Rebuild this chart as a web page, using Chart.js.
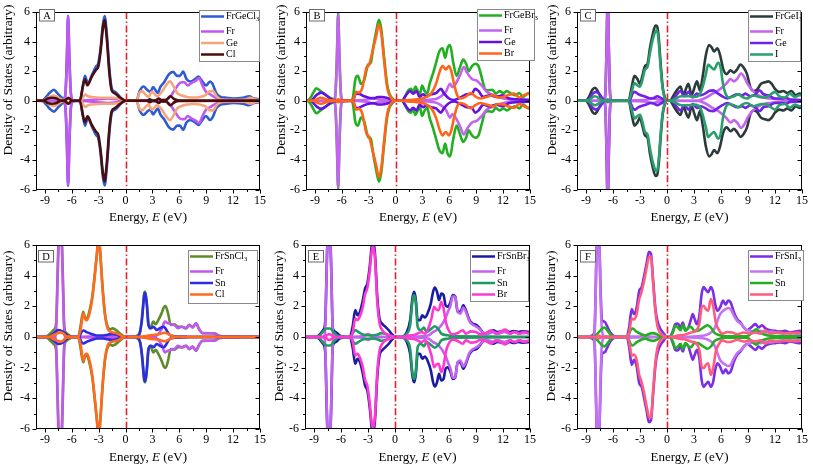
<!DOCTYPE html>
<html><head><meta charset="utf-8">
<script src="https://cdn.jsdelivr.net/npm/chart.js@4/dist/chart.umd.min.js"></script>
<style>
html,body{margin:0;padding:0;background:#fff;width:813px;height:465px;overflow:hidden;position:relative}
canvas{position:absolute}
</style></head><body>
<script>
// ---------- axis ticks ----------
const X_TICKS = [-9,-6,-3,0,3,6,9,12,15];
const X_MINOR = [-7.5,-4.5,-1.5,1.5,4.5,7.5,10.5,13.5];
const Y_TICKS = [-6,-4,-2,0,2,4,6];
const Y_MINOR = [-5,-3,-1,1,3,5];

// ---------- Panel A : FrGeCl3 ----------
const A_names = ['FrGeCl3','Fr','Ge','Cl'];
const A_tot_x = [-10,-9.3,-8.8,-8.5,-8.0,-7.6,-7.2,-6.9,-6.7,-6.55,-6.42,-6.28,-6.12,-5.9,-5.2,-4.95,-4.74,-4.53,-4.23,-3.72,-3.28,-3.07,-2.8,-2.55,-2.34,-2.08,-1.79,-1.53,-1.17,-0.62,-0.25,0,1.2,1.57,2.0,2.4,2.77,3.07,3.4,3.6,3.87,4.3,4.85,5.3,5.77,6.06,6.42,6.79,7.23,7.77,8.14,8.5,8.98,9.42,9.7,10.15,10.6,11.24,12.0,13.1,13.8,14.3,15];
const A_tot_up = [0,0.02,0.3,0.52,0.74,0.5,0.25,0.1,0.6,3.0,5.75,3.0,0.6,0.05,0,0.3,1.1,1.68,1.18,1.8,2.34,2.5,3.5,5.1,5.73,4.4,2.0,0.8,0.6,0.26,0.05,0,0,0.65,0.96,0.74,0.6,0.92,0.65,0.52,0.92,1.25,1.8,1.95,1.68,1.68,1.97,1.47,1.3,1.47,1.64,1.36,1.03,1.3,1.14,0.48,0.26,0.2,0.15,0.2,0.3,0.15,0.1];
const A_tot_dn = [0,-0.02,-0.3,-0.52,-0.74,-0.5,-0.25,-0.1,-0.6,-3.0,-5.75,-3.0,-0.6,-0.05,0,-0.3,-1.1,-1.68,-1.18,-1.8,-2.34,-2.5,-3.5,-5.1,-5.73,-4.4,-2.0,-0.8,-0.6,-0.26,-0.05,0,0,-0.65,-0.96,-0.74,-0.6,-0.92,-0.65,-0.52,-0.92,-1.25,-1.8,-1.95,-1.68,-1.68,-1.97,-1.47,-1.3,-1.47,-1.64,-1.36,-1.03,-1.3,-1.14,-0.48,-0.26,-0.2,-0.15,-0.2,-0.3,-0.15,-0.1];
const A_fr_x = [-10,-6.9,-6.7,-6.55,-6.42,-6.28,-6.12,-5.9,-3.0,-2.0,-1.0,0,4.5,5.1,5.4,5.95,6.3,6.57,6.93,7.3,7.85,8.2,8.58,8.98,9.42,9.78,10.3,11,15];
const A_fr_up = [0,0,0.55,2.9,5.7,2.9,0.55,0,0.1,0.15,0.1,0,0.05,0.37,0.65,1.14,1.25,1.25,1.03,1.18,1.36,1.53,1.03,0.6,0.44,0.3,0.15,0.08,0.05];
const A_fr_dn = [0,0,-0.55,-2.9,-5.7,-2.9,-0.55,0,-0.1,-0.15,-0.1,0,-0.05,-0.37,-0.65,-1.14,-1.25,-1.25,-1.03,-1.18,-1.36,-1.53,-1.03,-0.6,-0.44,-0.3,-0.15,-0.08,-0.05];
const A_ge_x = [-10,-9.2,-8.5,-8.0,-7.5,-7.0,-6.6,-6.4,-6.2,-5.9,-5.0,-4.7,-4.5,-4.2,-3.7,-3.2,-2.5,-1.5,-0.8,-0.2,0,1.2,1.57,1.82,2.3,2.55,2.92,3.2,3.5,3.94,4.5,4.96,5.4,5.77,6.2,6.86,7.6,8.3,8.87,9.42,9.78,10.15,10.7,12,13.4,13.9,14.5,15];
const A_ge_up = [0,0.02,0.25,0.35,0.2,0.05,0.08,0.12,0.08,0,0,0.3,0.42,0.3,0.25,0.22,0.2,0.2,0.15,0.05,0,0,0.55,0.65,0.37,0.26,0.6,0.48,0.3,0.52,1.03,1.31,0.92,0.52,0.37,0.26,0.22,0.26,0.37,0.65,0.65,0.3,0.08,0.05,0.08,0.2,0.08,0.05];
const A_ge_dn = [0,-0.02,-0.25,-0.35,-0.2,-0.05,-0.08,-0.12,-0.08,0,0,-0.3,-0.42,-0.3,-0.25,-0.22,-0.2,-0.2,-0.15,-0.05,0,0,-0.55,-0.65,-0.37,-0.26,-0.6,-0.48,-0.3,-0.52,-1.03,-1.31,-0.92,-0.52,-0.37,-0.26,-0.22,-0.26,-0.37,-0.65,-0.65,-0.3,-0.08,-0.05,-0.08,-0.2,-0.08,-0.05];
const A_cl_x = [-10,-9.2,-8.7,-8.2,-7.7,-7.2,-6.7,-6.4,-6.1,-5.9,-5.1,-4.8,-4.55,-4.25,-3.8,-3.3,-3.05,-2.8,-2.55,-2.35,-2.1,-1.8,-1.55,-1.2,-0.6,-0.1,0,2.4,2.7,3.0,3.45,3.7,3.95,4.5,5.0,5.45,6.0,15];
const A_cl_up = [0,0,0.15,0.2,0.15,0,0.05,0.2,0.05,0,0,0.9,1.45,1.05,1.6,2.1,2.3,3.3,4.8,5.45,4.2,1.8,0.7,0.5,0.2,0.02,0,0,0.1,0,0.05,0.15,0.05,0.05,0.3,0.1,0.02,0];
const A_cl_dn = [0,0,-0.15,-0.2,-0.15,0,-0.05,-0.2,-0.05,0,0,-0.9,-1.45,-1.05,-1.6,-2.1,-2.3,-3.3,-4.8,-5.45,-4.2,-1.8,-0.7,-0.5,-0.2,-0.02,0,0,-0.1,0,-0.05,-0.15,-0.05,-0.05,-0.3,-0.1,-0.02,0];

// ---------- Panel B : FrGeBr3 ----------
const B_names = ['FrGeBr3','Fr','Ge','Br'];
const B_tot_x = [-10,-9.8,-9.5,-9.14,-8.85,-8.48,-8.05,-7.6,-7.13,-6.85,-6.7,-6.55,-6.41,-6.27,-6.12,-5.95,-5.0,-4.77,-4.48,-4.22,-3.86,-3.5,-3.06,-2.77,-2.51,-2.15,-1.86,-1.6,-1.31,-0.95,-0.69,-0.33,0,0.7,1.05,1.42,1.71,1.97,2.22,2.44,2.69,2.95,3.24,3.53,3.79,4.15,4.51,4.88,5.24,5.53,5.79,6.08,6.44,6.81,7.17,7.54,7.9,8.15,8.52,8.88,9.25,9.61,9.97,10.34,10.81,11.18,11.6,12.05,12.4,12.9,13.36,13.8,14.23,14.7,15];
const B_tot_up = [0,0.02,0.2,0.6,0.85,0.7,0.5,0.3,0.15,0.1,0.6,3.0,5.95,3.0,0.6,0.05,0,0.2,1.47,1.68,1.14,1.4,2.45,2.56,3.55,4.75,5.47,4.86,3.1,1.14,0.48,0.15,0,0,0.3,0.7,0.8,0.6,0.96,0.7,0.37,1.03,0.66,0.48,1.14,1.8,2.56,3.33,3.55,2.89,3.55,3.76,2.56,1.68,2.23,2.78,2.45,2.0,2.34,2.5,2.34,1.58,0.8,0.7,0.74,0.48,0.65,0.52,0.65,0.48,0.37,0.52,0.26,0.48,0.55];
const B_tot_dn = [0,-0.02,-0.2,-0.6,-0.85,-0.7,-0.5,-0.3,-0.15,-0.1,-0.6,-3.0,-5.95,-3.0,-0.6,-0.05,0,-0.2,-1.47,-1.68,-1.14,-1.4,-2.45,-2.56,-3.55,-4.75,-5.47,-4.86,-3.1,-1.14,-0.48,-0.15,0,0,-0.3,-0.7,-0.8,-0.6,-0.96,-0.7,-0.37,-1.03,-0.66,-0.48,-1.14,-1.8,-2.56,-3.33,-3.55,-2.89,-3.55,-3.76,-2.56,-1.68,-2.23,-2.78,-2.45,-2.0,-2.34,-2.5,-2.34,-1.58,-0.8,-0.7,-0.74,-0.48,-0.65,-0.52,-0.65,-0.48,-0.37,-0.52,-0.26,-0.48,-0.55];
const B_fr_x = [-10,-6.85,-6.7,-6.55,-6.41,-6.27,-6.12,-5.95,-3.0,-2.5,-2.0,-1.0,0,4.33,5.06,5.6,6.08,6.33,6.7,7.24,7.61,7.97,8.52,9.06,9.61,10.16,10.7,11.61,12.7,15];
const B_fr_up = [0,0,0.55,2.9,5.85,2.9,0.55,0,0.1,0.2,0.1,0.05,0,0.1,0.3,0.6,1.14,0.92,1.14,1.8,2.28,1.9,1.47,1.36,1.03,0.6,0.44,0.22,0.09,0.05];
const B_fr_dn = [0,0,-0.55,-2.9,-5.85,-2.9,-0.55,0,-0.1,-0.2,-0.1,-0.05,0,-0.1,-0.3,-0.6,-1.14,-0.92,-1.14,-1.8,-2.28,-1.9,-1.47,-1.36,-1.03,-0.6,-0.44,-0.22,-0.09,-0.05];
const B_ge_x = [-10,-9.5,-8.8,-8.3,-7.8,-7.3,-6.9,-4.8,-4.4,-4.0,-3.5,-3.0,-2.5,-2.0,-1.5,-1.0,-0.5,0,0.7,1.24,1.6,1.97,2.33,2.69,3.06,3.42,3.97,4.51,5.06,5.42,5.97,6.52,7.24,7.97,8.52,8.88,9.25,9.79,10.52,11.25,11.98,12.7,13.8,15];
const B_ge_up = [0,0,0.4,0.55,0.4,0.15,0.05,0,0.5,0.45,0.3,0.2,0.15,0.25,0.25,0.2,0.1,0,0,0.44,0.66,0.48,0.66,0.26,0.44,0.3,0.44,0.52,0.8,0.48,0.15,0.05,0.22,0.44,0.48,0.8,0.66,0.26,0.37,0.26,0.37,0.15,0.09,0.05];
const B_ge_dn = [0,0,-0.4,-0.55,-0.4,-0.15,-0.05,0,-0.5,-0.45,-0.3,-0.2,-0.15,-0.25,-0.25,-0.2,-0.1,0,0,-0.44,-0.66,-0.48,-0.66,-0.26,-0.44,-0.3,-0.44,-0.52,-0.8,-0.48,-0.15,-0.05,-0.22,-0.44,-0.48,-0.8,-0.66,-0.26,-0.37,-0.26,-0.37,-0.15,-0.09,-0.05];
const B_br_x = [-10,-9.2,-8.8,-8.4,-8.0,-7.5,-6.7,-6.4,-6.1,-5.0,-4.7,-4.4,-4.1,-3.75,-3.24,-2.95,-2.58,-2.15,-1.86,-1.57,-1.31,-0.95,-0.58,0,0.7,1.42,2.5,3.24,3.97,4.51,4.88,5.24,5.6,5.97,6.26,6.52,6.88,7.24,7.79,8.41,8.88,9.43,10.16,10.88,11.43,11.98,12.52,13.25,13.8,14.34,14.9,15];
const B_br_up = [0,0,0.1,0.2,0.15,0.05,0.02,0.1,0.02,0,0.1,0.6,0.55,0.8,2.23,2.45,3.33,4.42,5.19,4.42,2.89,0.92,0.26,0,0,0.05,0.1,0.2,0.5,1.14,1.9,2.34,2.12,2.34,1.9,1.14,0.37,0.15,0.26,0.52,0.3,0.15,0.26,0.37,0.22,0.26,0.37,0.48,0.22,0.37,0.48,0.45];
const B_br_dn = [0,0,-0.1,-0.2,-0.15,-0.05,-0.02,-0.1,-0.02,0,-0.1,-0.6,-0.55,-0.8,-2.23,-2.45,-3.33,-4.42,-5.19,-4.42,-2.89,-0.92,-0.26,0,0,-0.05,-0.1,-0.2,-0.5,-1.14,-1.9,-2.34,-2.12,-2.34,-1.9,-1.14,-0.37,-0.15,-0.26,-0.52,-0.3,-0.15,-0.26,-0.37,-0.22,-0.26,-0.37,-0.48,-0.22,-0.37,-0.48,-0.45];

// ---------- Panel C : FrGeI3 ----------
const C_names = ['FrGeI3','Fr','Ge','I'];
const C_tot_x = [-10,-9.04,-8.67,-8.3,-8.01,-7.65,-7.28,-7.03,-6.85,-6.72,-6.59,-6.46,-6.33,-6.15,-5.5,-4.28,-3.92,-3.62,-3.29,-3.0,-2.74,-2.45,-2.16,-1.9,-1.61,-1.28,-1.1,-0.91,-0.7,-0.48,-0.26,0,0.29,0.84,1.21,1.5,1.83,2.1,2.38,2.74,3.05,3.33,3.66,3.95,4.32,4.68,4.98,5.23,5.6,5.89,6.26,6.62,7.06,7.43,7.79,8.16,8.53,8.89,9.26,9.62,9.99,10.43,10.9,11.27,11.64,12.0,12.48,12.92,13.36,13.83,14.31,14.75,15];
const C_tot_up = [0,0,0.26,0.74,0.88,0.6,0.15,0.05,0.5,3.5,7.0,3.5,0.5,0.02,0,0,0.92,1.68,1.47,1.14,1.68,2.34,2.5,3.55,4.42,5.08,5.03,4.2,2.45,0.92,0.26,0,0,0.48,0.8,0.96,0.37,0.8,1.14,0.37,0.9,1.31,0.7,1.58,3.1,3.76,3.59,3.33,3.55,3.1,2.12,1.8,2.06,1.9,2.12,2.45,2.23,1.8,0.92,0.66,0.74,1.14,1.25,1.31,1.14,0.8,0.6,0.66,0.52,0.66,0.37,0.48,0.45];
const C_tot_dn = [0,0,-0.26,-0.74,-0.88,-0.6,-0.15,-0.05,-0.5,-3.5,-7.0,-3.5,-0.5,-0.02,0,0,-0.92,-1.68,-1.47,-1.14,-1.68,-2.34,-2.5,-3.55,-4.42,-5.08,-5.03,-4.2,-2.45,-0.92,-0.26,0,0,-0.48,-0.8,-0.96,-0.37,-0.8,-1.14,-0.37,-0.9,-1.31,-0.7,-1.58,-3.1,-3.76,-3.59,-3.33,-3.55,-3.1,-2.12,-1.8,-2.06,-1.9,-2.12,-2.45,-2.23,-1.8,-0.92,-0.66,-0.74,-1.14,-1.25,-1.31,-1.14,-0.8,-0.6,-0.66,-0.52,-0.66,-0.37,-0.48,-0.45];
const C_fr_x = [-10,-6.98,-6.85,-6.72,-6.59,-6.46,-6.33,-6.2,-2.5,-1.6,-0.8,0,3.5,3.95,4.5,5.05,5.6,6.15,6.62,7.06,7.43,7.79,8.23,8.6,8.96,9.44,9.99,10.72,11.45,12.55,15];
const C_fr_up = [0,0,0.45,3.4,7.0,3.4,0.45,0,0.05,0.15,0.05,0,0.02,0.1,0.26,0.48,0.66,0.92,1.18,1.47,1.31,1.47,1.84,1.58,1.14,0.74,0.44,0.22,0.15,0.09,0.05];
const C_fr_dn = [0,0,-0.45,-3.4,-7.0,-3.4,-0.45,0,-0.05,-0.15,-0.05,0,-0.02,-0.1,-0.26,-0.48,-0.66,-0.92,-1.18,-1.47,-1.31,-1.47,-1.84,-1.58,-1.14,-0.74,-0.44,-0.22,-0.15,-0.09,-0.05];
const C_ge_x = [-10,-8.8,-8.3,-7.9,-7.5,-7.1,-6.8,-4.2,-3.8,-3.6,-3.2,-2.8,-2.3,-1.8,-1.4,-1.1,-0.7,-0.3,0,0.48,1.02,1.5,1.94,2.38,2.85,3.33,3.77,4.32,4.68,5.16,5.6,6.15,6.7,7.24,7.79,8.34,8.71,9.26,9.81,10.28,10.72,11.27,12.0,12.92,13.2,13.65,15];
const C_ge_up = [0,0,0.45,0.6,0.45,0.1,0,0,0.5,0.6,0.45,0.35,0.25,0.15,0.2,0.3,0.2,0.05,0,0,0.37,0.66,0.3,0.6,0.22,0.48,0.37,0.52,0.66,0.7,0.52,0.3,0.15,0.3,0.44,0.37,0.48,0.3,0.44,0.7,0.44,0.37,0.15,0.15,0.22,0.09,0.05];
const C_ge_dn = [0,0,-0.45,-0.6,-0.45,-0.1,0,0,-0.5,-0.6,-0.45,-0.35,-0.25,-0.15,-0.2,-0.3,-0.2,-0.05,0,0,-0.37,-0.66,-0.3,-0.6,-0.22,-0.48,-0.37,-0.52,-0.66,-0.7,-0.52,-0.3,-0.15,-0.3,-0.44,-0.37,-0.48,-0.3,-0.44,-0.7,-0.44,-0.37,-0.15,-0.15,-0.22,-0.09,-0.05];
const C_i_x = [-10,-9.0,-8.6,-8.0,-7.5,-7.1,-6.8,-6.59,-6.4,-4.28,-3.92,-3.62,-3.3,-3.0,-2.74,-2.45,-2.16,-1.9,-1.6,-1.28,-1.1,-0.91,-0.7,-0.48,-0.26,0,0.3,0.84,1.57,2.49,3.04,3.59,3.95,4.32,4.57,4.87,5.23,5.67,5.96,6.22,6.51,6.88,7.43,7.98,8.34,8.89,9.55,9.99,10.54,11.09,11.64,12.0,12.48,13.1,13.65,14.2,14.75,15];
const C_i_up = [0,0,0.1,0.3,0.15,0.02,0.02,0.1,0.02,0,0.6,1.2,1.05,0.95,1.4,2.1,2.3,3.2,4.1,4.7,4.75,3.9,2.2,0.8,0.2,0,0,0.1,0.3,0.3,0.26,0.37,0.92,1.8,2.45,2.28,2.12,2.56,2.23,1.14,0.48,0.22,0.3,0.44,0.26,0.15,0.37,0.3,0.22,0.26,0.48,0.6,0.3,0.22,0.48,0.26,0.37,0.35];
const C_i_dn = [0,0,-0.1,-0.3,-0.15,-0.02,-0.02,-0.1,-0.02,0,-0.6,-1.2,-1.05,-0.95,-1.4,-2.1,-2.3,-3.2,-4.1,-4.7,-4.75,-3.9,-2.2,-0.8,-0.2,0,0,-0.1,-0.3,-0.3,-0.26,-0.37,-0.92,-1.8,-2.45,-2.28,-2.12,-2.56,-2.23,-1.14,-0.48,-0.22,-0.3,-0.44,-0.26,-0.15,-0.37,-0.3,-0.22,-0.26,-0.48,-0.6,-0.3,-0.22,-0.48,-0.26,-0.37,-0.35];

// ---------- Panel D : FrSnCl3 ----------
const D_names = ['FrSnCl3','Fr','Sn','Cl'];
const D_tot_x = [-10,-8.94,-8.39,-8.03,-7.75,-7.6,-7.45,-7.3,-7.15,-7.0,-6.85,-6.57,-6.0,-5.29,-5.04,-4.74,-4.53,-4.31,-4.01,-3.72,-3.47,-3.2,-3.0,-2.8,-2.55,-2.26,-2.0,-1.72,-1.46,-1.1,-0.73,-0.29,0,0.73,1.1,1.39,1.64,1.9,2.08,2.19,2.37,2.55,2.74,3.1,3.36,3.65,4.01,4.27,4.45,4.74,5.04,5.47,5.84,6.28,6.75,7.12,7.48,7.85,8.21,8.58,9.49,10.04,10.4,11.0,13.0,15];
const D_tot_up = [0,0,0.24,0.46,0.9,3.9,7.0,8.0,7.0,3.9,0.7,0.24,0.03,0,0.67,1.65,1.28,1.22,1.76,2.63,3.93,5.46,6.6,5.24,3.07,1.33,0.67,0.5,0.56,0.46,0.28,0.07,0,0,0.03,0.13,0.35,1.76,2.85,2.96,2.2,0.89,0.57,1.0,0.83,1.1,1.54,1.93,2.02,1.54,0.78,0.83,0.67,0.67,0.57,0.8,0.63,0.9,0.5,0.25,0.24,0.22,0.08,0.05,0.02,0];
const D_tot_dn = [0,0,-0.24,-0.46,-0.9,-3.9,-7.0,-8.0,-7.0,-3.9,-0.7,-0.24,-0.03,0,-0.67,-1.65,-1.28,-1.22,-1.76,-2.63,-3.93,-5.46,-6.6,-5.24,-3.07,-1.33,-0.67,-0.5,-0.56,-0.46,-0.28,-0.07,0,0,-0.03,-0.13,-0.35,-1.76,-2.85,-2.96,-2.2,-0.89,-0.57,-1.0,-0.83,-1.1,-1.54,-1.93,-2.02,-1.54,-0.78,-0.83,-0.67,-0.67,-0.57,-0.8,-0.63,-0.9,-0.5,-0.25,-0.24,-0.22,-0.08,-0.05,-0.02,0];
const D_fr_x = [-10,-7.9,-7.75,-7.6,-7.45,-7.3,-7.15,-7.0,-6.85,-6.7,-3.0,-2.0,-1.0,0,3.28,4.01,4.38,4.74,5.11,5.47,5.84,6.28,6.75,7.12,7.48,7.85,8.21,8.58,9.49,10.04,10.4,10.95,12.77,13.0,15];
const D_fr_up = [0,0,0.5,3.5,6.7,7.9,6.7,3.5,0.5,0,0.05,0.08,0.05,0,0.05,0.5,1.0,0.89,0.83,0.78,0.57,0.67,0.57,0.78,0.63,0.89,0.5,0.24,0.24,0.2,0.07,0.05,0.03,0,0];
const D_fr_dn = [0,0,-0.5,-3.5,-6.7,-7.9,-6.7,-3.5,-0.5,0,-0.05,-0.08,-0.05,0,-0.05,-0.5,-1.0,-0.89,-0.83,-0.78,-0.57,-0.67,-0.57,-0.78,-0.63,-0.89,-0.5,-0.24,-0.24,-0.2,-0.07,-0.05,-0.03,0,0];
const D_sn_x = [-10,-8.6,-8.0,-7.5,-7.0,-6.5,-6.0,-5.2,-4.9,-4.7,-4.3,-3.8,-3.2,-2.5,-2.0,-1.5,-1.0,-0.5,0,1.1,1.46,1.82,2.08,2.19,2.37,2.55,2.85,3.1,3.47,3.83,4.27,4.56,4.93,5.47,7.0,15];
const D_sn_up = [0,0,0.25,0.46,0.35,0.1,0,0,0.35,0.42,0.3,0.2,0.1,0.1,0.15,0.2,0.15,0.05,0,0,0.1,1.1,2.74,2.89,2.09,0.78,0.57,0.67,0.46,0.57,0.67,0.46,0.13,0.05,0.02,0];
const D_sn_dn = [0,0,-0.25,-0.46,-0.35,-0.1,0,0,-0.35,-0.42,-0.3,-0.2,-0.1,-0.1,-0.15,-0.2,-0.15,-0.05,0,0,-0.1,-1.1,-2.74,-2.89,-2.09,-0.78,-0.57,-0.67,-0.46,-0.57,-0.67,-0.46,-0.13,-0.05,-0.02,0];
const D_cl_x = [-10,-8.5,-8.0,-7.6,-7.3,-7.0,-6.6,-5.29,-5.0,-4.74,-4.5,-4.3,-4.0,-3.72,-3.47,-3.2,-3.0,-2.8,-2.55,-2.26,-2.0,-1.7,-1.4,-1.0,-0.5,0,1.1,2.19,2.92,3.65,4.38,4.74,5.28,6.0,15];
const D_cl_up = [0,0,0.15,0.25,0.3,0.25,0.05,0,0.55,1.55,1.15,1.1,1.6,2.5,3.8,5.4,6.5,5.2,3.0,1.25,0.55,0.35,0.3,0.25,0.1,0,0,0.05,0.13,0.17,0.28,0.2,0.05,0,0];
const D_cl_dn = [0,0,-0.15,-0.25,-0.3,-0.25,-0.05,0,-0.55,-1.55,-1.15,-1.1,-1.6,-2.5,-3.8,-5.4,-6.5,-5.2,-3.0,-1.25,-0.55,-0.35,-0.3,-0.25,-0.1,0,0,-0.05,-0.13,-0.17,-0.28,-0.2,-0.05,0,0];

// ---------- Panel E : FrSnBr3 ----------
const E_names = ['FrSnBr3','Fr','Sn','Br'];
const E_tot_x = [-10,-8.72,-8.36,-7.99,-7.75,-7.62,-7.48,-7.34,-7.2,-7.06,-6.92,-6.6,-6.17,-5.62,-5.07,-4.71,-4.42,-4.16,-3.9,-3.61,-3.32,-3.07,-2.81,-2.59,-2.45,-2.23,-1.97,-1.72,-1.42,-1.06,-0.69,-0.33,0,0.58,0.95,1.31,1.68,1.93,2.12,2.3,2.52,2.77,3.03,3.32,3.61,3.98,4.23,4.42,4.67,4.89,5.15,5.4,5.62,5.88,6.17,6.42,6.68,6.97,7.26,7.59,7.88,8.25,8.61,8.98,9.34,9.71,10.07,10.55,10.91,11.35,11.9,12.26,12.74,13.18,13.72,14.27,15];
const E_tot_up = [0,0,0.17,0.44,1.0,3.8,7.0,8.0,7.0,3.8,0.6,0.33,0.11,0.02,0,0.66,1.75,1.42,1.64,2.29,3.17,3.49,4.59,5.9,6.3,5.46,2.62,1.2,0.87,0.66,0.44,0.17,0,0,0.05,0.33,1.09,2.51,2.95,2.51,1.09,1.09,1.42,1.27,1.53,2.18,2.95,3.23,2.95,2.4,2.84,2.73,2.07,1.97,2.29,2.73,2.66,1.64,1.64,2.07,1.75,1.14,0.87,0.81,0.61,0.33,0.22,0.33,0.44,0.33,0.37,0.44,0.33,0.39,0.33,0.37,0.33];
const E_tot_dn = [0,0,-0.17,-0.44,-1.0,-3.8,-7.0,-8.0,-7.0,-3.8,-0.6,-0.33,-0.11,-0.02,0,-0.66,-1.75,-1.42,-1.64,-2.29,-3.17,-3.49,-4.59,-5.9,-6.3,-5.46,-2.62,-1.2,-0.87,-0.66,-0.44,-0.17,0,0,-0.05,-0.33,-1.09,-2.51,-2.95,-2.51,-1.09,-1.09,-1.42,-1.27,-1.53,-2.18,-2.95,-3.23,-2.95,-2.4,-2.84,-2.73,-2.07,-1.97,-2.29,-2.73,-2.66,-1.64,-1.64,-2.07,-1.75,-1.14,-0.87,-0.81,-0.61,-0.33,-0.22,-0.33,-0.44,-0.33,-0.37,-0.44,-0.33,-0.39,-0.33,-0.37,-0.33];
const E_fr_x = [-10,-7.9,-7.75,-7.62,-7.48,-7.34,-7.2,-7.06,-6.92,-6.75,-3.5,-3.0,-2.5,0,3.69,4.23,4.6,5.15,5.58,5.88,6.17,6.42,6.68,6.97,7.26,7.59,7.88,8.25,8.61,8.98,9.34,9.71,10.07,10.6,10.95,11.5,12.15,12.74,13.25,13.83,14.45,15];
const E_fr_up = [0,0,0.6,3.6,6.8,7.8,6.8,3.6,0.5,0,0.05,0.2,0.05,0,0.1,0.33,0.44,0.76,1.2,1.64,2.07,2.66,2.62,1.64,1.53,1.92,1.64,1.05,0.81,0.7,0.55,0.33,0.17,0.26,0.33,0.22,0.33,0.22,0.33,0.22,0.26,0.24];
const E_fr_dn = [0,0,-0.6,-3.6,-6.8,-7.8,-6.8,-3.6,-0.5,0,-0.05,-0.2,-0.05,0,-0.1,-0.33,-0.44,-0.76,-1.2,-1.64,-2.07,-2.66,-2.62,-1.64,-1.53,-1.92,-1.64,-1.05,-0.81,-0.7,-0.55,-0.33,-0.17,-0.26,-0.33,-0.22,-0.33,-0.22,-0.33,-0.22,-0.26,-0.24];
const E_sn_x = [-10,-8.6,-8.0,-7.6,-7.2,-6.8,-6.3,-5.0,-4.6,-4.4,-4.0,-3.5,-2.5,-2.0,-1.5,-1.0,-0.5,0,0.77,1.31,1.68,1.93,2.12,2.3,2.52,2.88,3.21,3.5,4.05,4.42,4.85,5.15,5.88,6.6,15];
const E_sn_up = [0,0,0.35,0.55,0.55,0.3,0.05,0,0.35,0.45,0.3,0.15,0.1,0.15,0.25,0.2,0.05,0,0,0.22,0.76,2.29,2.73,2.29,0.66,0.44,0.61,0.33,0.55,0.7,0.48,0.22,0.11,0.04,0.02];
const E_sn_dn = [0,0,-0.35,-0.55,-0.55,-0.3,-0.05,0,-0.35,-0.45,-0.3,-0.15,-0.1,-0.15,-0.25,-0.2,-0.05,0,0,-0.22,-0.76,-2.29,-2.73,-2.29,-0.66,-0.44,-0.61,-0.33,-0.55,-0.7,-0.48,-0.22,-0.11,-0.04,-0.02];
const E_br_x = [-10,-8.0,-7.6,-7.3,-7.0,-6.6,-5.0,-4.7,-4.42,-4.16,-3.9,-3.6,-3.32,-3.07,-2.81,-2.59,-2.45,-2.23,-1.97,-1.72,-1.42,-1.0,-0.5,0,0.77,1.5,2.23,2.96,3.32,3.69,4.05,4.34,4.6,4.85,5.15,5.4,5.69,6.06,6.42,6.97,7.52,7.88,8.43,8.98,9.52,10.07,10.69,11.17,11.72,12.26,12.81,13.25,13.8,14.27,15];
const E_br_up = [0,0,0.1,0.2,0.1,0,0,0.3,1.2,1.1,1.35,1.9,2.8,3.2,4.3,5.6,5.95,5.2,2.3,0.9,0.45,0.2,0.1,0,0,0.1,0.15,0.33,0.22,0.55,1.2,1.97,1.79,1.75,2.29,1.86,0.87,0.33,0.17,0.26,0.44,0.22,0.37,0.33,0.17,0.26,0.44,0.22,0.33,0.48,0.22,0.33,0.22,0.33,0.22];
const E_br_dn = [0,0,-0.1,-0.2,-0.1,0,0,-0.3,-1.2,-1.1,-1.35,-1.9,-2.8,-3.2,-4.3,-5.6,-5.95,-5.2,-2.3,-0.9,-0.45,-0.2,-0.1,0,0,-0.1,-0.15,-0.33,-0.22,-0.55,-1.2,-1.97,-1.79,-1.75,-2.29,-1.86,-0.87,-0.33,-0.17,-0.26,-0.44,-0.22,-0.37,-0.33,-0.17,-0.26,-0.44,-0.22,-0.33,-0.48,-0.22,-0.33,-0.22,-0.33,-0.22];

// ---------- Panel F : FrSnI3 ----------
const F_names = ['FrSnI3','Fr','Sn','I'];
const F_tot_x = [-10,-8.68,-8.32,-8.05,-7.92,-7.79,-7.66,-7.53,-7.4,-7.22,-6.92,-6.67,-6.3,-5.82,-4.47,-4.21,-3.92,-3.66,-3.37,-3.08,-2.82,-2.53,-2.27,-2.01,-1.79,-1.54,-1.28,-1.06,-0.81,-0.44,0,0.29,0.66,0.92,1.21,1.5,1.76,2.05,2.38,2.67,2.86,3.04,3.33,3.59,3.85,4.07,4.32,4.58,4.87,5.13,5.35,5.6,5.9,6.23,6.52,6.78,7.07,7.44,7.8,8.17,8.53,8.9,9.34,9.82,10.18,10.55,10.92,11.47,12.01,12.56,13.11,13.66,14.21,14.76,15];
const F_tot_up = [0,0,0.1,0.4,3.2,6.8,8.0,6.8,3.5,1.1,1.0,0.73,0.29,0.05,0,0.62,1.82,1.49,1.93,3.03,3.25,4.02,4.79,5.56,5.45,3.69,1.82,1.05,0.62,0.29,0,0,0.4,0.84,0.88,0.62,0.95,0.44,0.62,1.16,1.49,1.23,0.84,1.38,2.81,3.25,3.08,2.92,3.25,2.92,2.15,1.71,1.93,2.37,2.11,2.37,2.26,1.6,1.16,0.95,0.62,0.44,0.62,0.84,0.62,0.77,0.57,0.44,0.4,0.35,0.4,0.29,0.35,0.4,0.35];
const F_tot_dn = [0,0,-0.1,-0.4,-3.2,-6.8,-8.0,-6.8,-3.5,-1.1,-1.0,-0.73,-0.29,-0.05,0,-0.62,-1.82,-1.49,-1.93,-3.03,-3.25,-4.02,-4.79,-5.56,-5.45,-3.69,-1.82,-1.05,-0.62,-0.29,0,0,-0.4,-0.84,-0.88,-0.62,-0.95,-0.44,-0.62,-1.16,-1.49,-1.23,-0.84,-1.38,-2.81,-3.25,-3.08,-2.92,-3.25,-2.92,-2.15,-1.71,-1.93,-2.37,-2.11,-2.37,-2.26,-1.6,-1.16,-0.95,-0.62,-0.44,-0.62,-0.84,-0.62,-0.77,-0.57,-0.44,-0.4,-0.35,-0.4,-0.29,-0.35,-0.4,-0.35];
const F_fr_x = [-10,-8.2,-8.05,-7.92,-7.79,-7.66,-7.53,-7.4,-7.25,-7.0,-3.0,-2.5,-2.0,0,4.14,4.69,5.24,5.6,5.9,6.23,6.52,6.78,7.07,7.44,7.8,8.24,8.72,9.27,9.82,10.37,10.92,11.47,12.2,12.93,13.66,14.4,15];
const F_fr_up = [0,0,0.3,3.0,6.5,7.8,6.5,3.0,0.6,0.05,0.03,0.1,0.03,0,0.1,0.22,0.51,1.05,1.49,1.71,1.82,1.89,1.82,1.38,1.05,0.84,0.51,0.4,0.33,0.4,0.29,0.35,0.29,0.22,0.26,0.22,0.2];
const F_fr_dn = [0,0,-0.3,-3.0,-6.5,-7.8,-6.5,-3.0,-0.6,-0.05,-0.03,-0.1,-0.03,0,-0.1,-0.22,-0.51,-1.05,-1.49,-1.71,-1.82,-1.89,-1.82,-1.38,-1.05,-0.84,-0.51,-0.4,-0.33,-0.4,-0.29,-0.35,-0.29,-0.22,-0.26,-0.22,-0.2];
const F_sn_x = [-10,-8.2,-7.6,-7.2,-6.95,-6.6,-6.2,-5.8,-4.4,-4.0,-3.8,-3.4,-2.9,-2.4,-2.0,-1.6,-1.2,-0.7,0,0.29,0.66,0.92,1.21,1.5,1.76,2.05,2.38,2.67,3.04,3.41,3.77,4.14,4.51,4.87,5.24,5.79,6.34,8.9,9.64,9.93,10.29,10.73,11.47,15];
const F_sn_up = [0,0,0.3,0.55,0.62,0.4,0.1,0,0,0.5,0.55,0.35,0.2,0.1,0.2,0.25,0.2,0.05,0,0,0.29,0.73,0.62,0.44,0.79,0.4,0.62,0.66,0.4,0.4,0.51,0.66,0.77,0.62,0.29,0.13,0.05,0.05,0.4,0.51,0.29,0.18,0.08,0.05];
const F_sn_dn = [0,0,-0.3,-0.55,-0.62,-0.4,-0.1,0,0,-0.5,-0.55,-0.35,-0.2,-0.1,-0.2,-0.25,-0.2,-0.05,0,0,-0.29,-0.73,-0.62,-0.44,-0.79,-0.4,-0.62,-0.66,-0.4,-0.4,-0.51,-0.66,-0.77,-0.62,-0.29,-0.13,-0.05,-0.05,-0.4,-0.51,-0.29,-0.18,-0.08,-0.05];
const F_i_x = [-10,-8.0,-7.6,-7.2,-4.47,-4.2,-3.92,-3.66,-3.37,-3.08,-2.82,-2.53,-2.27,-2.01,-1.79,-1.54,-1.28,-1.06,-0.81,-0.44,0,0.48,1.21,1.94,2.67,3.22,3.59,3.85,4.07,4.32,4.58,4.87,5.13,5.42,5.79,6.15,6.7,7.25,7.8,8.53,9.27,9.82,10.37,10.92,11.47,12.2,12.93,13.66,14.4,15];
const F_i_up = [0,0,0.1,0,0,0.3,1.2,1.15,1.5,2.5,2.95,3.7,4.5,5.2,5.25,3.5,1.6,0.7,0.3,0.1,0,0,0.1,0.15,0.29,0.4,0.84,1.93,2.04,1.82,1.71,2.48,2.04,0.95,0.44,0.22,0.33,0.29,0.18,0.29,0.22,0.29,0.22,0.44,0.22,0.29,0.26,0.22,0.29,0.25];
const F_i_dn = [0,0,-0.1,0,0,-0.3,-1.2,-1.15,-1.5,-2.5,-2.95,-3.7,-4.5,-5.2,-5.25,-3.5,-1.6,-0.7,-0.3,-0.1,0,0,-0.1,-0.15,-0.29,-0.4,-0.84,-1.93,-2.04,-1.82,-1.71,-2.48,-2.04,-0.95,-0.44,-0.22,-0.33,-0.29,-0.18,-0.29,-0.22,-0.29,-0.22,-0.44,-0.22,-0.29,-0.26,-0.22,-0.29,-0.25];

// ---------- layout / style (kept separate from data) ----------
const SERIF = '"Liberation Serif", "Times New Roman", serif';
const PANELS = [
  {letter:'A', names:A_names, colors:['#2f5bd0','#c257f2','#f6a57a','#4a0e0e'],
   series:[[A_tot_x,A_tot_up,A_tot_dn],[A_fr_x,A_fr_up,A_fr_dn],[A_ge_x,A_ge_up,A_ge_dn],[A_cl_x,A_cl_up,A_cl_dn]],
   canvas:{x:0,y:0,w:271,h:232}, plot:{l:36,t:6,r:265,b:189.5}, ytx:8.3, yty:80, xty:218,
   legend:{l:199,t:10,w:60,h:51}, label:{x:39,y:9}},
  {letter:'B', names:B_names, colors:['#22b022','#c462f2','#6412e0','#ff6418'],
   series:[[B_tot_x,B_tot_up,B_tot_dn],[B_fr_x,B_fr_up,B_fr_dn],[B_ge_x,B_ge_up,B_ge_dn],[B_br_x,B_br_up,B_br_dn]],
   canvas:{x:271,y:0,w:270,h:232}, plot:{l:306,t:6,r:534,b:189.5}, ytx:281.7, yty:80, xty:218,
   legend:{l:477,t:9,w:57,h:51}, label:{x:309,y:9}},
  {letter:'C', names:C_names, colors:['#2b3a3a','#c462f2','#7022e6','#2a9e6c'],
   series:[[C_tot_x,C_tot_up,C_tot_dn],[C_fr_x,C_fr_up,C_fr_dn],[C_ge_x,C_ge_up,C_ge_dn],[C_i_x,C_i_up,C_i_dn]],
   canvas:{x:541,y:0,w:272,h:232}, plot:{l:577,t:6,r:806,b:189.5}, ytx:552, yty:80, xty:218,
   legend:{l:748,t:10,w:52,h:51}, label:{x:580,y:9}},
  {letter:'D', names:D_names, colors:['#5e8c2a','#c257f2','#2c2ce0','#ff6a1c'],
   series:[[D_tot_x,D_tot_up,D_tot_dn],[D_fr_x,D_fr_up,D_fr_dn],[D_sn_x,D_sn_up,D_sn_dn],[D_cl_x,D_cl_up,D_cl_dn]],
   canvas:{x:0,y:232,w:271,h:233}, plot:{l:36,t:245,r:264.5,b:429}, ytx:8.3, yty:326, xty:457.7,
   legend:{l:188,t:250,w:69,h:53}, label:{x:38,y:250}},
  {letter:'E', names:E_names, colors:['#1a1aa2','#c462f2','#1f9a62','#ff38d2'],
   series:[[E_tot_x,E_tot_up,E_tot_dn],[E_fr_x,E_fr_up,E_fr_dn],[E_sn_x,E_sn_up,E_sn_dn],[E_br_x,E_br_up,E_br_dn]],
   canvas:{x:271,y:232,w:270,h:233}, plot:{l:305,t:245,r:533,b:429}, ytx:279, yty:326, xty:457.7,
   legend:{l:470,t:250,w:58,h:51}, label:{x:308,y:250}},
  {letter:'F', names:F_names, colors:['#7a2ee6','#c472f2','#22b022','#ff5a80'],
   series:[[F_tot_x,F_tot_up,F_tot_dn],[F_fr_x,F_fr_up,F_fr_dn],[F_sn_x,F_sn_up,F_sn_dn],[F_i_x,F_i_up,F_i_dn]],
   canvas:{x:541,y:232,w:272,h:233}, plot:{l:577,t:245,r:806,b:429}, ytx:551, yty:326, xty:457.7,
   legend:{l:748,t:250,w:55,h:50}, label:{x:580,y:250}}
];
const LEGEND_ROWS = [6.5, 21.5, 33, 44.5];

function seg(ctx, x1, y1, x2, y2){ ctx.beginPath(); ctx.moveTo(x1,y1); ctx.lineTo(x2,y2); ctx.stroke(); }

function drawLabelText(ctx, txt, x, y, size){
  // trailing digit drawn as a subscript
  const m = txt.match(/^(.*?)(\d)$/);
  ctx.font = size + 'px ' + SERIF;
  if (m){
    ctx.fillText(m[1], x, y);
    const w = ctx.measureText(m[1]).width;
    ctx.font = (size*0.68).toFixed(1) + 'px ' + SERIF;
    ctx.fillText(m[2], x + w, y + size*0.3);
  } else ctx.fillText(txt, x, y);
}

function makeDecor(P){
  const cx = P.canvas.x, cy = P.canvas.y;
  return {
    id: 'decor' + P.letter,
    afterDatasetsDraw(chart){
      const {ctx, chartArea:a, scales:{x}} = chart;
      const px = Math.round(x.getPixelForValue(0)) + 0.5;
      ctx.save();
      ctx.strokeStyle = '#e4202c'; ctx.lineWidth = 1.6; ctx.setLineDash([7,2.5,1.6,2.5]);
      seg(ctx, px, a.top, px, a.bottom);
      ctx.restore();
    },
    afterDraw(chart){
      const {ctx, chartArea:a, scales:{x, y}} = chart;
      ctx.save();
      ctx.setLineDash([]);
      ctx.strokeStyle = '#000'; ctx.lineWidth = 1;
      const L = Math.round(a.left)+0.5, R = Math.round(a.right)-0.5, T = Math.round(a.top)+0.5, B = Math.round(a.bottom)-0.5;
      ctx.strokeRect(L, T, R-L, B-T);
      X_TICKS.forEach(v => { const p = Math.round(x.getPixelForValue(v))+0.5; seg(ctx,p,B,p,B+4); });
      X_MINOR.forEach(v => { const p = Math.round(x.getPixelForValue(v))+0.5; seg(ctx,p,B,p,B+2.5); });
      Y_TICKS.forEach(v => { const p = Math.round(y.getPixelForValue(v))+0.5; seg(ctx,L-4,p,L,p); seg(ctx,R,p,R-4,p); });
      Y_MINOR.forEach(v => { const p = Math.round(y.getPixelForValue(v))+0.5; seg(ctx,L-2.5,p,L,p); seg(ctx,R,p,R-2.5,p); });

      // axis titles
      ctx.fillStyle = '#000'; ctx.textBaseline = 'middle';
      const fs = 13;
      const s1 = 'Energy, ', s2 = 'E', s3 = ' (eV)';
      ctx.font = fs+'px '+SERIF; const w1 = ctx.measureText(s1).width, w3 = ctx.measureText(s3).width;
      ctx.font = 'italic '+fs+'px '+SERIF; const w2 = ctx.measureText(s2).width;
      let sx = (a.left + a.right)/2 - (w1+w2+w3)/2; const ty = P.xty - cy;
      ctx.textAlign = 'left';
      ctx.font = fs+'px '+SERIF; ctx.fillText(s1, sx, ty);
      ctx.font = 'italic '+fs+'px '+SERIF; ctx.fillText(s2, sx+w1, ty);
      ctx.font = fs+'px '+SERIF; ctx.fillText(s3, sx+w1+w2, ty);
      ctx.save();
      ctx.translate(P.ytx - cx, P.yty - cy); ctx.rotate(-Math.PI/2);
      ctx.textAlign = 'center'; ctx.font = '13.5px '+SERIF;
      ctx.fillText('Density of States (arbitrary)', 0, 0);
      ctx.restore();

      // panel letter box
      const lb = P.label;
      ctx.fillStyle = '#fff'; ctx.fillRect(lb.x-cx+0.5, lb.y-cy+0.5, 15, 11.5);
      ctx.strokeStyle = '#6a6a6a'; ctx.lineWidth = 1; ctx.strokeRect(lb.x-cx+0.5, lb.y-cy+0.5, 15, 11.5);
      ctx.fillStyle = '#000'; ctx.textAlign = 'center'; ctx.font = '10.5px '+SERIF;
      ctx.fillText(P.letter, lb.x-cx+8, lb.y-cy+6.8);

      // legend
      const lg = P.legend, lx = lg.l-cx, ly = lg.t-cy;
      ctx.fillStyle = '#fff'; ctx.fillRect(lx+0.5, ly+0.5, lg.w, lg.h);
      ctx.strokeStyle = '#8a8a8a'; ctx.strokeRect(lx+0.5, ly+0.5, lg.w, lg.h);
      P.names.forEach((nm, i) => {
        const yy = ly + LEGEND_ROWS[i];
        ctx.strokeStyle = P.colors[i]; ctx.lineWidth = 2.5;
        seg(ctx, lx+2, yy, lx+25, yy);
        ctx.fillStyle = '#000'; ctx.textAlign = 'left'; ctx.textBaseline = 'middle';
        drawLabelText(ctx, nm, lx+27, yy, 10);
      });
      ctx.restore();
    }
  };
}

PANELS.forEach(P => {
  const cv = document.createElement('canvas');
  cv.width = P.canvas.w; cv.height = P.canvas.h;
  cv.style.left = P.canvas.x+'px'; cv.style.top = P.canvas.y+'px';
  cv.style.width = P.canvas.w+'px'; cv.style.height = P.canvas.h+'px';
  document.body.appendChild(cv);
  const datasets = [];
  P.series.forEach((s, i) => {
    const [xs, up, dn] = s;
    if (xs.length !== up.length || xs.length !== dn.length) throw new Error('length mismatch '+P.letter+i+' '+xs.length+' '+up.length+' '+dn.length);
    [up, dn].forEach((ys, k) => {
      datasets.push({
        label: P.names[i] + (k ? ' down' : ' up'),
        data: xs.map((xv, j) => ({x: xv, y: ys[j]})),
        borderColor: P.colors[i], borderWidth: 2.6, pointRadius: 0, fill: false,
        cubicInterpolationMode: 'monotone', order: 10 - i
      });
    });
  });
  const yw = P.plot.l - P.canvas.x;
  const padTop = P.plot.t - P.canvas.y;
  const padRight = P.canvas.x + P.canvas.w - P.plot.r;
  const xh = P.canvas.y + P.canvas.h - P.plot.b;
  new Chart(cv, {
    type: 'line',
    data: { datasets },
    options: {
      responsive: false, animation: false, devicePixelRatio: 1,
      layout: { padding: { top: padTop, right: padRight, left: 0, bottom: 0 } },
      plugins: { legend: { display: false }, tooltip: { enabled: false } },
      scales: {
        x: { type: 'linear', min: -10, max: 15,
             grid: { display: false, drawTicks: false }, border: { display: false },
             afterBuildTicks: sc => { sc.ticks = X_TICKS.map(v => ({ value: v })); },
             afterFit: sc => { sc.height = xh; },
             ticks: { color: '#000', padding: 5, maxRotation: 0, autoSkip: false,
                      font: { family: SERIF, size: 12, lineHeight: 1 }, callback: v => String(v) } },
        y: { type: 'linear', min: -6, max: 6,
             grid: { display: false, drawTicks: false }, border: { display: false },
             afterBuildTicks: sc => { sc.ticks = Y_TICKS.map(v => ({ value: v })); },
             afterFit: sc => { sc.width = yw; },
             ticks: { color: '#000', padding: 6, autoSkip: false,
                      font: { family: SERIF, size: 12, lineHeight: 1 }, callback: v => String(v) } }
      }
    },
    plugins: [makeDecor(P)]
  });
});
</script>
</body></html>
